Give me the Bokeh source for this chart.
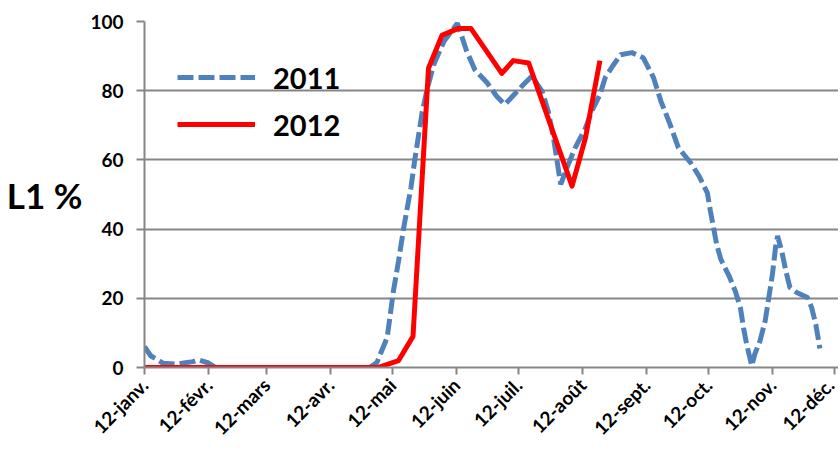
import math
from bokeh.plotting import figure
from bokeh.models import FixedTicker, Legend, LegendItem, Range1d
from bokeh.embed import file_html
from bokeh.resources import INLINE

# x values are day-of-year (1 = 1 Jan)
month_ticks = [12, 43, 71, 102, 132, 163, 193, 224, 255, 285, 316, 346]
month_labels = ["12-janv.", "12-févr.", "12-mars", "12-avr.", "12-mai", "12-juin",
                "12-juil.", "12-août", "12-sept.", "12-oct.", "12-nov.", "12-déc."]
y_ticks = [0, 20, 40, 60, 80, 100]

days_2011 = [12, 15, 19, 21, 28, 31, 35.5, 38, 43, 46.5, 121, 124.5, 129.5, 132.5, 135,
             137.5, 141, 143, 146.5, 149, 152, 157, 163.5, 168, 172, 178, 182.5, 186.5,
             191, 195.5, 199.5, 204.5, 207.5, 210, 212, 213.5, 216.5, 220.5, 225.5, 228.5,
             232.5, 235, 238.5, 242.5, 248, 253.5, 258.5, 262, 266.5, 270.5, 276.5, 280.5,
             284.5, 286, 289, 291, 295, 298, 300.5, 302, 303.5, 306, 307.5, 310, 312.5,
             314, 316, 317.5, 318.5, 320.5, 322.5, 324.5, 328, 333, 335, 337, 339]
vals_2011 = [6, 3.4, 2, 1.2, 1, 1.3, 1.7, 2.2, 1.3, 0, 0, 1.4, 8.7, 22, 30.8,
             40.4, 52, 60.6, 74, 80.8, 87.5, 94.3, 99.5, 91.4, 86, 82.2, 78.4, 76,
             78.9, 81.8, 84.2, 79.8, 74, 66.4, 58.7, 52.9, 57.7, 63.5, 69.2, 74,
             78.9, 83.7, 87, 90.4, 91, 89.5, 83.7, 77, 70.2, 63.5, 59.1, 55.3,
             50.5, 45.2, 35.6, 31.3, 26.5, 22.1, 17.3, 11.5, 6.8, 0.5, 3.9, 7.7, 13.5,
             19.2, 26.9, 34.6, 38, 33.7, 27.9, 23.1, 21.6, 20.2, 17.3, 12.5, 5.5]

days_2012 = [12, 125, 135, 142, 149.5, 156, 164, 170, 185, 190.5, 198, 204.5, 219, 225.5, 232.5]
vals_2012 = [0, 0, 2, 9, 86.5, 96, 98, 98, 85, 88.7, 88, 77, 52.4, 66.4, 88.7]

FONT = "Lato"
GRAY = "#868686"

p = figure(width=838, height=453, output_backend="svg", toolbar_location=None,
           x_range=Range1d(12, 348), y_range=Range1d(0, 100),
           min_border_left=144, min_border_right=0, min_border_top=21, min_border_bottom=86)
p.outline_line_color = None
p.background_fill_color = "white"
p.border_fill_color = "white"

r1 = p.line(days_2011, vals_2011, line_color="#4F81BD", line_width=5, line_dash="16 5")
r2 = p.line(days_2012, vals_2012, line_color="#FF0000", line_width=5, line_join="round")

# axes
p.xaxis.ticker = FixedTicker(ticks=month_ticks)
p.xaxis.major_label_overrides = {t: l for t, l in zip(month_ticks, month_labels)}
p.xaxis.major_label_orientation = math.pi / 4
p.xaxis.minor_tick_line_color = None
p.xaxis.major_tick_in = 0
p.xaxis.major_tick_out = 7
p.xaxis.major_label_standoff = 7
p.xaxis.axis_line_color = GRAY
p.xaxis.axis_line_width = 2
p.xaxis.major_tick_line_color = GRAY
p.xaxis.major_tick_line_width = 2
p.xaxis.major_label_text_font_size = "19px"

p.yaxis.ticker = FixedTicker(ticks=y_ticks)
p.yaxis.minor_tick_line_color = None
p.yaxis.major_tick_in = 0
p.yaxis.major_tick_out = 8
p.yaxis.major_label_standoff = 13
p.yaxis.axis_line_color = GRAY
p.yaxis.axis_line_width = 2
p.yaxis.major_tick_line_color = GRAY
p.yaxis.major_tick_line_width = 2
p.yaxis.major_label_text_font_size = "19px"
p.yaxis.axis_label = "L1 %"
p.yaxis.axis_label_orientation = "horizontal"
p.yaxis.axis_label_text_font = FONT
p.yaxis.axis_label_text_font_size = "35px"
p.yaxis.axis_label_text_font_style = "bold"
p.yaxis.axis_label_text_color = "black"
p.yaxis.axis_label_standoff = 5

for ax in (p.xaxis, p.yaxis):
    ax.major_label_text_font = FONT
    ax.major_label_text_font_style = "bold"
    ax.major_label_text_color = "black"

p.xgrid.grid_line_color = None
p.ygrid.ticker = FixedTicker(ticks=y_ticks)
p.ygrid.grid_line_color = GRAY
p.ygrid.grid_line_width = 2

legend = Legend(items=[LegendItem(label="2011", renderers=[r1]),
                       LegendItem(label="2012", renderers=[r2])],
                location=(33, 223), orientation="vertical",
                border_line_color=None, background_fill_alpha=0,
                padding=0, margin=0, spacing=7,
                glyph_width=78, glyph_height=40, label_height=40, label_standoff=18,
                label_text_font=FONT, label_text_font_size="29px",
                label_text_font_style="bold", label_text_color="black")
p.add_layout(legend)

open("out.html", "w").write(file_html(p, INLINE))
